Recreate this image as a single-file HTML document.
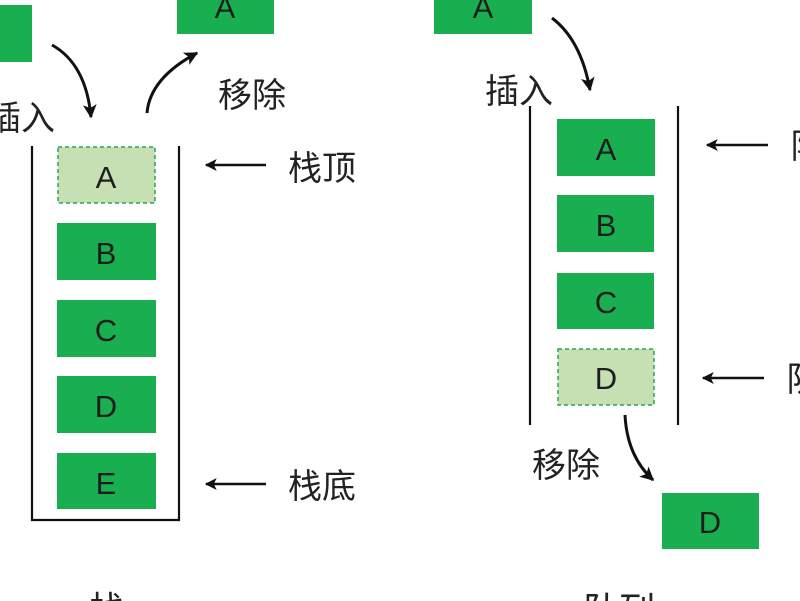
<!DOCTYPE html>
<html><head><meta charset="utf-8"><style>
html,body{margin:0;padding:0;background:#fff;}
svg{display:block;}
.l{font-family:"Liberation Sans",sans-serif;font-size:31px;fill:#1e1e1e;text-anchor:middle;}
.c{font-family:"Liberation Sans","Noto Sans CJK SC",sans-serif;font-size:34px;fill:#222;}
</style></head><body>
<svg width="800" height="601" viewBox="0 0 800 601" xmlns="http://www.w3.org/2000/svg">
<defs>
<marker id="ah" viewBox="0 0 10 10" refX="9" refY="5" markerWidth="4.6" markerHeight="4.6" orient="auto-start-reverse" markerUnits="strokeWidth">
<path d="M0,0 L10,5 L0,10 L2.5,5 z" fill="#111"/>
</marker>
</defs>
<rect width="800" height="601" fill="#fff"/>

<!-- left stack -->
<rect x="-5" y="5" width="37" height="57" fill="#19ae50"/>
<rect x="177" y="-5" width="97" height="39" fill="#19ae50"/>
<text class="l" x="225" y="18">A</text>

<path d="M52,45 Q86,64 91,117" fill="none" stroke="#111" stroke-width="3" marker-end="url(#ah)"/>
<path d="M147,113 Q150,78 197,53" fill="none" stroke="#111" stroke-width="3" marker-end="url(#ah)"/>

<text class="c" x="218" y="107">移除</text>
<text class="c" x="55" y="130" text-anchor="end">插入</text>

<path d="M32,146 V520 H179 V146" fill="none" stroke="#111" stroke-width="2.2"/>

<rect x="58" y="147" width="97" height="56" fill="#c6e0b4" stroke="#2aa35a" stroke-width="1.5" stroke-dasharray="4,3"/>
<text class="l" x="106" y="188">A</text>
<rect x="57" y="223" width="99" height="57" fill="#19ae50"/>
<text class="l" x="106" y="264">B</text>
<rect x="57" y="300" width="99" height="57" fill="#19ae50"/>
<text class="l" x="106" y="341">C</text>
<rect x="57" y="376" width="99" height="57" fill="#19ae50"/>
<text class="l" x="106" y="417">D</text>
<rect x="57" y="453" width="99" height="56" fill="#19ae50"/>
<text class="l" x="106" y="494">E</text>

<line x1="266" y1="165" x2="206" y2="165" stroke="#111" stroke-width="2.6" marker-end="url(#ah)"/>
<text class="c" x="288" y="180">栈顶</text>
<line x1="266" y1="484" x2="206" y2="484" stroke="#111" stroke-width="2.6" marker-end="url(#ah)"/>
<text class="c" x="288" y="498">栈底</text>

<text class="c" x="89" y="622" style="font-size:36px">栈</text>

<!-- right queue -->
<rect x="434" y="-5" width="98" height="39" fill="#19ae50"/>
<text class="l" x="483" y="18">A</text>
<path d="M552,18 Q581,40 590,90" fill="none" stroke="#111" stroke-width="3" marker-end="url(#ah)"/>
<text class="c" x="485" y="103">插入</text>

<line x1="530" y1="106" x2="530" y2="425" stroke="#111" stroke-width="2.2"/>
<line x1="678" y1="106" x2="678" y2="425" stroke="#111" stroke-width="2.2"/>

<rect x="557" y="119" width="98" height="57" fill="#19ae50"/>
<text class="l" x="606" y="160">A</text>
<rect x="557" y="195" width="97" height="57" fill="#19ae50"/>
<text class="l" x="606" y="236">B</text>
<rect x="557" y="273" width="97" height="56" fill="#19ae50"/>
<text class="l" x="606" y="313">C</text>
<rect x="558" y="349" width="96" height="56" fill="#c6e0b4" stroke="#2aa35a" stroke-width="1.5" stroke-dasharray="4,3"/>
<text class="l" x="606" y="389">D</text>

<line x1="768" y1="145" x2="707" y2="145" stroke="#111" stroke-width="2.6" marker-end="url(#ah)"/>
<text class="c" x="790" y="158">队头</text>
<line x1="764" y1="378" x2="703" y2="378" stroke="#111" stroke-width="2.6" marker-end="url(#ah)"/>
<text class="c" x="786" y="391">队尾</text>

<path d="M625,415 Q627,456 653,480" fill="none" stroke="#111" stroke-width="3" marker-end="url(#ah)"/>
<text class="c" x="532" y="477">移除</text>

<rect x="662" y="493" width="97" height="56" fill="#19ae50"/>
<text class="l" x="710" y="533">D</text>

<text class="c" x="583" y="623" style="font-size:36px">队列</text>
</svg>
</body></html>
